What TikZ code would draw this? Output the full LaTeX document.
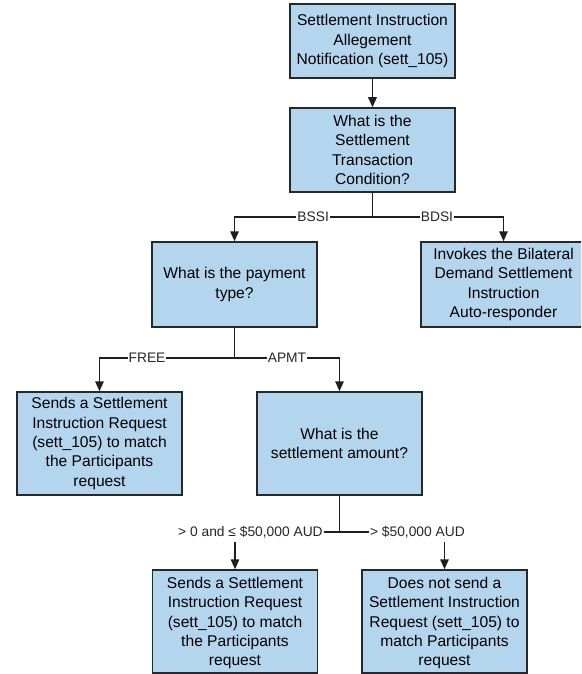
\documentclass[tikz,border=0pt]{standalone}
\usepackage{fontspec}
\setmainfont{Liberation Sans}
\usetikzlibrary{arrows.meta}
\definecolor{boxfill}{RGB}{180,213,238}
\definecolor{boxline}{RGB}{40,40,40}
\definecolor{conn}{RGB}{30,30,30}
\tikzset{
  box/.style={draw=boxline, fill=boxfill, line width=1.5pt, minimum width=165pt, inner sep=0pt, align=center, font=\fontsize{15.6pt}{19.3pt}\selectfont},
  arr/.style={draw=conn, line width=1.5pt, -{Triangle[length=10pt,width=8.5pt]}},
  lbl/.style={fill=white, inner xsep=1pt, inner ysep=4pt, font=\fontsize{13.8pt}{15pt}\selectfont, text=black!85},
}
\begin{document}
\begin{tikzpicture}[x=1pt,y=-1pt]
\clip (0,0) rectangle (581,674);
\fill[white] (0,0) rectangle (581,674);
\node[box, minimum height=74pt] (b1) at (372.5,41) {Settlement Instruction\\Allegement\\Notification (sett\_105)};
\node[box, minimum height=84pt] (b2) at (372.5,150) {What is the\\Settlement\\Transaction\\Condition?};
\node[box, minimum height=85pt] (b3) at (234.5,284.5) {What is the payment\\type?};
\node[box, minimum height=85pt] (b4) at (503.5,284.5) {Invokes the Bilateral\\Demand Settlement\\Instruction\\Auto-responder};
\node[box, minimum height=103pt] (b5) at (99.5,443.5) {Sends a Settlement\\Instruction Request\\(sett\_105) to match\\the Participants\\request};
\node[box, minimum height=103pt] (b6) at (339.5,443.5) {What is the\\settlement amount?};
\node[box, minimum height=103pt, text depth=-8pt] (b7) at (235,621.5) {Sends a Settlement\\Instruction Request\\(sett\_105) to match\\the Participants\\request};
\node[box, minimum height=103pt, text depth=-8pt] (b8) at (444.5,621.5) {Does not send a\\Settlement Instruction\\Request (sett\_105) to\\match Participants\\request};

\coordinate (j1) at (372.5,217);
\coordinate (j2) at (234.5,358);
\coordinate (j3) at (339.5,532);

\draw[arr] (b1) -- (b2);
\draw[arr] (b2.south) -- (j1) -| node[lbl, pos=0.215] {BSSI} (b3.north);
\draw[arr] (j1) -| node[lbl, pos=0.246] {BDSI} (b4.north);
\draw[arr] (b3.south) -- (j2) -| node[lbl, pos=0.324] {FREE} (b5.north);
\draw[arr] (j2) -| node[lbl, pos=0.25] {APMT} (b6.north);
\draw[arr] (b6.south) -- (j3) -| node[lbl, pos=0.426] {> 0 and ≤ \$50,000 AUD} (b7.north);
\draw[arr] (j3) -| node[lbl, pos=0.371] {> \$50,000 AUD} (b8.north);
\end{tikzpicture}
\end{document}
